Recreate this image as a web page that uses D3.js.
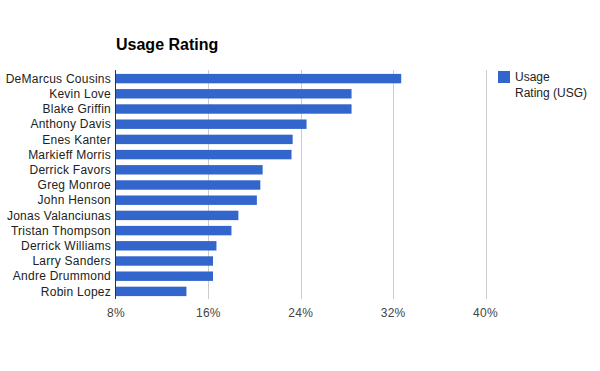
<!DOCTYPE html>
<html>
<head>
<meta charset="utf-8">
<script src="https://cdn.jsdelivr.net/npm/d3@7"></script>
<style>
  body { margin: 0; background: #fff; }
  text { font-family: Arial, "Liberation Sans", sans-serif; }
</style>
</head>
<body>
<div id="chart"></div>
<script>
const players = ["DeMarcus Cousins", "Kevin Love", "Blake Griffin", "Anthony Davis", "Enes Kanter",
    "Markieff Morris", "Derrick Favors", "Greg Monroe", "John Henson", "Jonas Valanciunas",
    "Tristan Thompson", "Derrick Williams", "Larry Sanders", "Andre Drummond", "Robin Lopez"];
const usage = [32.7, 28.4, 28.4, 24.5, 23.3, 23.2, 20.7, 20.5, 20.2, 18.6, 18.0, 16.7, 16.4, 16.4, 14.1];
const tickValues = [8, 16, 24, 32, 40];
const seriesName = ["Usage", "Rating (USG)"];

const width = 600, height = 371;
const margin = { top: 71, left: 116, right: 114, bottom: 72 };

const svg = d3.select("#chart").append("svg")
    .attr("width", width)
    .attr("height", height);

const x = d3.scaleLinear()
    .domain([8, 40])
    .range([margin.left, 485.5]);

const y = d3.scaleBand()
    .domain(players)
    .range([margin.top, height - margin.bottom])
    .paddingInner(0.38)
    .paddingOuter(0.19);

// gridlines
svg.append("g")
    .selectAll("line")
    .data(tickValues.slice(1))
    .enter().append("line")
    .attr("x1", d => Math.round(x(d)) + 0.5)
    .attr("x2", d => Math.round(x(d)) + 0.5)
    .attr("y1", margin.top - 1)
    .attr("y2", height - margin.bottom)
    .attr("stroke", "#cccccc");

// bars
svg.append("g")
    .selectAll("rect")
    .data(players)
    .enter().append("rect")
    .attr("x", x(8))
    .attr("y", d => y(d))
    .attr("width", (d, i) => x(usage[i]) - x(8))
    .attr("height", y.bandwidth())
    .attr("fill", "#3366cc");

// baseline
svg.append("line")
    .attr("x1", margin.left - 0.5)
    .attr("x2", margin.left - 0.5)
    .attr("y1", margin.top - 1)
    .attr("y2", height - margin.bottom)
    .attr("stroke", "#333333");

// category labels
svg.append("g")
    .selectAll("text")
    .data(players)
    .enter().append("text")
    .attr("x", margin.left - 5)
    .attr("y", d => y(d) + y.bandwidth() / 2)
    .attr("dy", "0.35em")
    .attr("text-anchor", "end")
    .attr("font-size", 12)
    .attr("letter-spacing", 0.25)
    .attr("fill", "#222222")
    .text(d => d);

// x tick labels
svg.append("g")
    .selectAll("text")
    .data(tickValues)
    .enter().append("text")
    .attr("x", d => x(d))
    .attr("y", 313)
    .attr("dy", "0.35em")
    .attr("text-anchor", "middle")
    .attr("font-size", 12)
    .attr("letter-spacing", 0.25)
    .attr("fill", "#444444")
    .text(d => d + "%");

// title
svg.append("text")
    .attr("x", margin.left)
    .attr("y", 50)
    .attr("font-size", 16)
    .attr("font-weight", "bold")
    .attr("fill", "#000000")
    .text("Usage Rating");

// legend
svg.append("rect")
    .attr("x", 498)
    .attr("y", 71)
    .attr("width", 12)
    .attr("height", 12)
    .attr("fill", "#3366cc");

svg.append("g")
    .selectAll("text")
    .data(seriesName)
    .enter().append("text")
    .attr("x", 515)
    .attr("y", (d, i) => 77 + i * 16)
    .attr("dy", "0.35em")
    .attr("font-size", 12)
    .attr("fill", "#222222")
    .text(d => d);
</script>
</body>
</html>
